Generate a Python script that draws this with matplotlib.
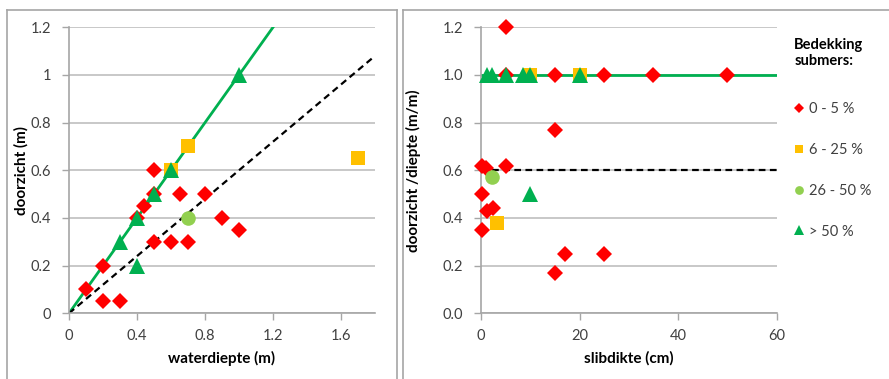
import matplotlib
matplotlib.use("Agg")
import matplotlib.pyplot as plt
from matplotlib.lines import Line2D

plt.rcParams['font.family'] = ['Lato', 'DejaVu Sans']

# ---- data: left panel (waterdiepte vs doorzicht) ----
l_red_x = [0.1, 0.2, 0.2, 0.3, 0.4, 0.44, 0.5, 0.5, 0.5, 0.6, 0.65, 0.7, 0.8, 0.9, 1.0]
l_red_y = [0.1, 0.2, 0.05, 0.05, 0.4, 0.45, 0.5, 0.6, 0.3, 0.3, 0.5, 0.3, 0.5, 0.4, 0.35]
l_yel_x = [0.6, 0.7, 1.7]
l_yel_y = [0.6, 0.7, 0.65]
l_lg_x = [0.7]
l_lg_y = [0.4]
l_tri_x = [0.3, 0.4, 0.4, 0.5, 0.6, 1.0]
l_tri_y = [0.3, 0.4, 0.2, 0.5, 0.6, 1.0]
l_green_line_x = [0, 1.2]
l_green_line_y = [0, 1.2]
l_dash_x = [0, 1.79]
l_dash_y = [0, 1.074]

# ---- data: right panel (slibdikte vs doorzicht/diepte) ----
r_red_x = [5, 5, 15, 25, 35, 50, 15, 0.3, 1.0, 5, 0.3, 1.2, 2.4, 0.3, 15, 17, 25]
r_red_y = [1.2, 1.0, 1.0, 1.0, 1.0, 1.0, 0.77, 0.62, 0.61, 0.62, 0.5, 0.43, 0.44, 0.35, 0.17, 0.25, 0.25]
r_yel_x = [3.3, 10, 20]
r_yel_y = [0.38, 1.0, 1.0]
r_lg_x = [2.2]
r_lg_y = [0.57]
r_tri_x = [1.3, 2.3, 5, 8.5, 10, 20, 10]
r_tri_y = [1.0, 1.0, 1.0, 1.0, 1.0, 1.0, 0.5]
r_green_line_x = [0, 60]
r_green_line_y = [1.0, 1.0]
r_dash_x = [0, 60]
r_dash_y = [0.6, 0.6]

legend_labels = ['0 - 5 %', '6 - 25 %', '26 - 50 %', '> 50 %']
legend_title = 'Bedekking\nsubmers:'

RED = '#FF0000'
YEL = '#FFC000'
LGR = '#92D050'
GRN = '#00B050'
TXT = '#404040'
GRID = '#BFBFBF'

W, H = 889, 379
fig = plt.figure(figsize=(W / 100, H / 100), dpi=100)


def px_axes(x0, y0, x1, y1):
    return fig.add_axes([x0 / W, 1 - y1 / H, (x1 - x0) / W, (y1 - y0) / H])


def style(ax):
    for s in ['top', 'right']:
        ax.spines[s].set_visible(False)
    for s in ['left', 'bottom']:
        ax.spines[s].set_color('#A6A6A6')
        ax.spines[s].set_linewidth(1.2)
    ax.yaxis.grid(True, color=GRID, linewidth=1.2)
    ax.set_axisbelow(True)
    ax.tick_params(axis='both', colors='#A6A6A6', labelcolor=TXT, labelsize=10.5,
                   length=5, width=1.0, direction='out')
    ax.tick_params(axis='y', pad=8)
    ax.tick_params(axis='x', pad=6)


ms_d, ms_s, ms_c, ms_t = 8, 9.5, 10.5, 11
kw = dict(mew=0, ls='none', zorder=3, clip_on=False)

# Left panel
ax1 = px_axes(69, 27.3, 375, 313.3)
style(ax1)
ax1.plot(l_green_line_x, l_green_line_y, color=GRN, lw=2, zorder=2)
ax1.plot(l_dash_x, l_dash_y, color='black', lw=1.6, ls=(0, (3, 2)), zorder=2)
ax1.plot(l_red_x, l_red_y, 'D', color=RED, ms=ms_d, **kw)
ax1.plot(l_yel_x, l_yel_y, 's', color=YEL, ms=ms_s, **kw)
ax1.plot(l_lg_x, l_lg_y, 'o', color=LGR, ms=ms_c, **kw)
ax1.plot(l_tri_x, l_tri_y, '^', color=GRN, ms=ms_t, **kw)
ax1.set_xlim(0, 1.8)
ax1.set_ylim(0, 1.2)
ax1.set_xticks([0, 0.4, 0.8, 1.2, 1.6])
ax1.set_xticklabels(['0', '0.4', '0.8', '1.2', '1.6'])
ax1.set_yticks([0, 0.2, 0.4, 0.6, 0.8, 1.0, 1.2])
ax1.set_yticklabels(['0', '0.2', '0.4', '0.6', '0.8', '1', '1.2'])
ax1.set_xlabel('waterdiepte (m)', fontsize=11, fontweight='bold', color='black', labelpad=6)
ax1.set_ylabel('doorzicht (m)', fontsize=11, fontweight='bold', color='black')
ax1.yaxis.set_label_coords((29 - 69) / 306, 0.5)

# Right panel
ax2 = px_axes(481, 27.3, 776.7, 313.3)
style(ax2)
ax2.plot(r_green_line_x, r_green_line_y, color=GRN, lw=2, zorder=2)
ax2.plot(r_dash_x, r_dash_y, color='black', lw=1.6, ls=(0, (3, 2)), zorder=2)
h1, = ax2.plot(r_red_x, r_red_y, 'D', color=RED, ms=ms_d, **kw)
h2, = ax2.plot(r_yel_x, r_yel_y, 's', color=YEL, ms=ms_s, **kw)
h3, = ax2.plot(r_lg_x, r_lg_y, 'o', color=LGR, ms=ms_c, **kw)
h4, = ax2.plot(r_tri_x, r_tri_y, '^', color=GRN, ms=ms_t, **kw)
ax2.set_xlim(0, 60)
ax2.set_ylim(0, 1.2)
ax2.set_xticks([0, 20, 40, 60])
ax2.set_yticks([0, 0.2, 0.4, 0.6, 0.8, 1.0, 1.2])
ax2.set_yticklabels(['0.0', '0.2', '0.4', '0.6', '0.8', '1.0', '1.2'])
ax2.set_xlabel('slibdikte (cm)', fontsize=11, fontweight='bold', color='black', labelpad=6)
ax2.set_ylabel('doorzicht /diepte (m/m)', fontsize=11, fontweight='bold', color='black')
ax2.yaxis.set_label_coords((421 - 481) / 295.7, 0.5)

leg = fig.legend([h1, h2, h3, h4], legend_labels, loc='upper left',
                 bbox_to_anchor=(781 / W, 1 - 25 / H), frameon=False,
                 markerscale=0.6, handlelength=0.6, handletextpad=0.4,
                 labelspacing=1.85, fontsize=10.5, title=legend_title,
                 title_fontproperties={'weight': 'bold', 'size': 10.5},
                 alignment='left')
for t in leg.get_texts():
    t.set_color(TXT)
leg._legend_box.sep = 24

# Panel frames
fc = '#A6A6A6'
for xs, ys in [([7, 7], [10, H]), ([7, 397], [10, 10]), ([397, 397], [10, H]),
               ([403, 403], [10, H]), ([403, W], [10, 10])]:
    fig.add_artist(Line2D([x / W for x in xs], [1 - y / H for y in ys],
                          color=fc, lw=1.2, transform=fig.transFigure))

fig.savefig('out.png', dpi=100)
